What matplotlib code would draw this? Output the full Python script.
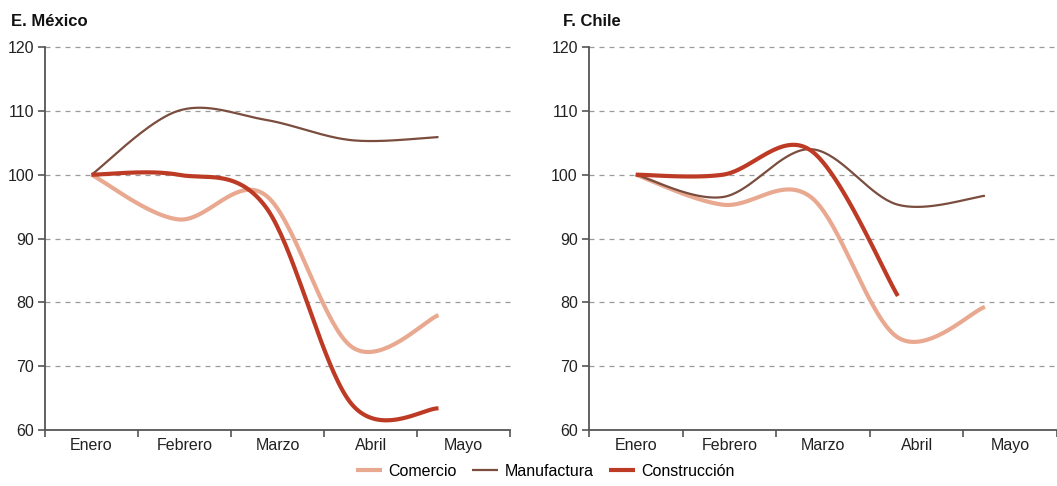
import numpy as np
import matplotlib.pyplot as plt

plt.rcParams['font.family'] = ['Liberation Sans', 'DejaVu Sans']

meses = ["Enero", "Febrero", "Marzo", "Abril", "Mayo"]
# posiciones de los datos (en unidades de mes)
pos = [0, 0.93, 1.87, 2.8, 3.73]

mex_comercio = [100, 93.0, 96.8, 73.0, 78.0]
mex_manufactura = [100, 110.0, 108.6, 105.4, 105.9]
mex_construccion = [100, 100.0, 95.0, 64.0, 63.4]

chl_comercio = [100, 95.3, 96.5, 74.5, 79.3]
chl_manufactura = [100, 96.5, 104.0, 95.3, 96.7]
chl_construccion = [100, 100.0, 103.8, 81.0]

colores = {"Comercio": "#e9a991", "Manufactura": "#7a4d3e", "Construcción": "#bd3a25"}
anchos = {"Comercio": 3.0, "Manufactura": 1.6, "Construcción": 3.0}


def suave(x, y, n=40):
    # curva suavizada tipo Excel (Catmull-Rom con Bezier)
    p = np.column_stack([x, y]).astype(float)
    p = np.vstack([p[0], p, p[-1]])
    t = np.linspace(0, 1, n)[:, None]
    out = []
    for i in range(1, len(p) - 2):
        p0, p1, p2, p3 = p[i - 1], p[i], p[i + 1], p[i + 2]
        b1 = p1 + (p2 - p0) / 6
        b2 = p2 - (p3 - p1) / 6
        seg = ((1 - t) ** 3) * p1 + 3 * ((1 - t) ** 2) * t * b1 + 3 * (1 - t) * t ** 2 * b2 + t ** 3 * p2
        out.append(seg)
    out = np.vstack(out)
    return out[:, 0], out[:, 1]


fig = plt.figure(figsize=(10.57, 4.86), dpi=100)
ax1 = fig.add_axes([0.0426, 0.1152, 0.44, 0.788])
ax2 = fig.add_axes([0.5572, 0.1152, 0.4428, 0.788])

paneles = [
    (ax1, "E. México", {"Comercio": mex_comercio, "Manufactura": mex_manufactura, "Construcción": mex_construccion}, 0.01),
    (ax2, "F. Chile", {"Comercio": chl_comercio, "Manufactura": chl_manufactura, "Construcción": chl_construccion}, 0.533),
]

for ax, titulo, series, xt in paneles:
    for nombre, vals in series.items():
        xs, ys = suave(pos[:len(vals)], vals)
        ax.plot(xs, ys, color=colores[nombre], lw=anchos[nombre], label=nombre,
                solid_capstyle='butt', zorder=3)
    ax.set_xlim(-0.5, 4.5)
    ax.set_ylim(60, 120)
    ax.set_yticks(range(60, 121, 10))
    for v in range(70, 121, 10):
        ax.axhline(v, color="#9a9a9a", lw=0.9, ls=(0, (4, 4)), zorder=1, clip_on=False)
    ax.set_xticks(np.arange(-0.5, 5, 1))
    ax.set_xticklabels([])
    ax.set_xticks(range(5), minor=True)
    ax.set_xticklabels(meses, minor=True)
    ax.tick_params(axis='x', which='major', length=5, width=1.2, color="#555555")
    ax.tick_params(axis='x', which='minor', length=0, pad=6, labelsize=11.5, labelcolor="#222222")
    ax.tick_params(axis='y', length=5, width=1.2, color="#555555", labelsize=11.5, labelcolor="#222222", pad=3)
    for s in ["top", "right"]:
        ax.spines[s].set_visible(False)
    for s in ["left", "bottom"]:
        ax.spines[s].set_color("#555555")
        ax.spines[s].set_linewidth(1.3)
    fig.text(xt, 0.955, titulo, fontsize=12, fontweight="bold", color="#111111", ha="left", va="center")

handles, labels = ax1.get_legend_handles_labels()
fig.legend(handles, labels, loc="lower center", bbox_to_anchor=(0.516, -0.015), ncol=3,
           frameon=False, fontsize=11.5, handlelength=1.6, columnspacing=1.0, handletextpad=0.4)

fig.savefig("out.png", dpi=100)
